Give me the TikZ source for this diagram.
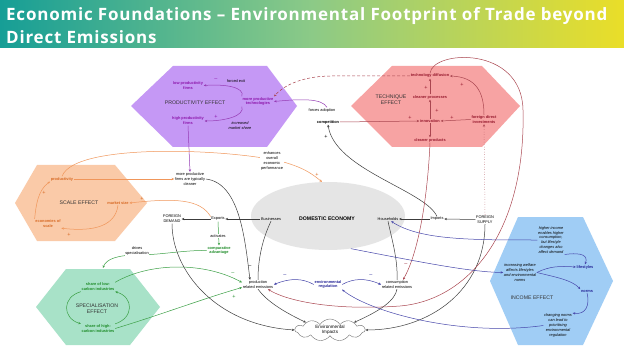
\documentclass[tikz,border=0pt]{standalone}
\usepackage{fontspec}
\setmainfont{Liberation Sans}
\newfontfamily\titlefont{Open Sans}[LetterSpace=4.6]
\usetikzlibrary{arrows.meta,shapes.geometric,shapes.symbols}
\definecolor{purpfill}{RGB}{197,152,245}
\definecolor{purptxt}{RGB}{140,20,170}
\definecolor{purpline}{RGB}{150,60,180}
\definecolor{redfill}{RGB}{247,163,163}
\definecolor{redtxt}{RGB}{150,25,45}
\definecolor{redline}{RGB}{170,70,80}
\definecolor{orfill}{RGB}{250,202,168}
\definecolor{ortxt}{RGB}{215,105,35}
\definecolor{orline}{RGB}{240,150,90}
\definecolor{grfill}{RGB}{168,226,200}
\definecolor{grtxt}{RGB}{30,140,40}
\definecolor{grline}{RGB}{60,160,70}
\definecolor{blfill}{RGB}{160,205,245}
\definecolor{bltxt}{RGB}{35,35,150}
\definecolor{blline}{RGB}{70,70,170}
\definecolor{ellfill}{RGB}{229,229,229}
\definecolor{kline}{RGB}{60,60,60}
\definecolor{tleft}{RGB}{22,158,150}
\definecolor{tmid}{RGB}{140,202,135}
\definecolor{tright}{RGB}{234,222,40}
\newcommand{\smfs}{\fontsize{3.9}{4.9}\selectfont}
\newcommand{\hexfs}{\fontsize{5.2}{6}\selectfont}
\begin{document}
\begin{tikzpicture}[x=1pt,y=-1pt,
  t/.style={font=\smfs, align=center, inner sep=0.6pt, text=black},
  ti/.style={font=\smfs\itshape, align=center, inner sep=0.6pt, text=black},
  tb/.style={font=\smfs\bfseries, align=center, inner sep=0.6pt, text=black},
  pl/.style={font=\smfs\bfseries, align=center, inner sep=0.6pt, text=purptxt},
  rl/.style={font=\smfs\bfseries, align=center, inner sep=0.6pt, text=redtxt},
  ol/.style={font=\smfs\bfseries, align=center, inner sep=0.6pt, text=ortxt},
  gl/.style={font=\smfs\bfseries, align=center, inner sep=0.6pt, text=grtxt},
  bl/.style={font=\smfs\bfseries, align=center, inner sep=0.6pt, text=bltxt},
  hext/.style={font=\hexfs, align=center, inner sep=0.6pt, text=black!80},
  sgn/.style={font=\fontsize{5.5}{5.5}\selectfont, inner sep=0pt},
  tip/.style={-{Stealth[length=2.6pt,width=2.3pt]}},
  parr/.style={tip, draw=purpline, line width=0.5pt},
  rarr/.style={tip, draw=redline, line width=0.5pt},
  oarr/.style={tip, draw=orline, line width=0.5pt},
  garr/.style={tip, draw=grline, line width=0.5pt},
  barr/.style={tip, draw=blline, line width=0.5pt},
  karr/.style={tip, draw=kline, line width=0.5pt},
  kplain/.style={draw=kline, line width=0.5pt},
]
\useasboundingbox (0,0) rectangle (624,350);
\fill[white] (0,0) rectangle (624,350);
% title bar
\shade[left color=tleft, right color=tright, middle color=tmid] (0,0) rectangle (624,47.5);
\node[anchor=base west, inner sep=0, text=white, font=\titlefont\bfseries\fontsize{17}{20}\selectfont] (title1) at (6,20.7) {Economic Foundations – Environmental Footprint of Trade beyond};
\node[anchor=base west, inner sep=0, text=white, font=\titlefont\bfseries\fontsize{17}{20}\selectfont] (title2) at (6,43.3) {Direct Emissions};

% hexagons
\fill[purpfill] (131,106) -- (173,66) -- (267,66) -- (297,106) -- (267,147) -- (173,147) -- cycle;
\fill[redfill] (351,106) -- (392,66) -- (482,66) -- (520,106) -- (482,147) -- (392,147) -- cycle;
\fill[orfill] (15,203) -- (37,165) -- (115,165) -- (147,203) -- (115,241) -- (37,241) -- cycle;
\fill[grfill] (36,307) -- (66,269) -- (130,269) -- (160,307) -- (130,345) -- (66,345) -- cycle;
\fill[blfill] (490,281) -- (518,217) -- (583,217) -- (613,281) -- (583,345) -- (518,345) -- cycle;
% domestic economy
\node[ellipse, fill=ellfill, minimum width=154pt, minimum height=68pt, inner sep=0] (domeco) at (328,216) {};
\node[font=\fontsize{5.2}{6}\selectfont\bfseries, inner sep=0.6pt] (domtxt) at (327,219) {DOMESTIC ECONOMY};

% productivity effect
\node[pl] (lowp) at (188,85.5) {low productivity\\firms};
\node[hext] (prodeff) at (195,103) {PRODUCTIVITY EFFECT};
\node[pl] (mpt) at (258,101.5) {more productive\\technologies};
\node[pl] (highp) at (188,121) {high productivity\\firms};
\node[t] (fexit) at (236,81) {forced exit};
\node[ti] (incms) at (240,125.5) {increased\\market share};
\node[sgn, text=purptxt] (s1) at (216,80) {–};
\node[sgn, text=purptxt] (s2) at (216,117) {+};
\draw[parr] (mpt.north west) .. controls (245,87) and (225,84) .. (lowp.east);
\draw[parr] (mpt.south west) .. controls (245,116) and (225,121) .. (highp.east);

% technique effect
\node[rl] (techdiff) at (430,76) {technology diffusion};
\node[rl] (cleanproc) at (430,97) {cleaner processes};
\node[rl] (innov) at (430,121) {innovation};
\node[rl] (cleanprod) at (430,140) {cleaner products};
\node[rl] (fdi) at (484,119.5) {foreign direct\\investments};
\node[hext] (techeff) at (391,100) {TECHNIQUE\\EFFECT};
\draw[rarr] (cleanproc.north) -- (techdiff.south);
\draw[rarr] (innov.north) -- (cleanproc.south);
\draw[rarr] (innov.south) -- (cleanprod.north);
\draw[rarr] (fdi.west) -- (innov.east);
\draw[rarr] (fdi.north) .. controls (484,92) and (476,77) .. (techdiff.east);
\node[sgn, text=redtxt] (s3) at (426,88) {+};
\node[sgn, text=redtxt] (s4) at (437,111) {+};
\node[sgn, text=redtxt] (s5) at (452,118) {+};
\node[sgn, text=redtxt] (s6) at (410,118) {+};
\node[sgn, text=redtxt] (s7) at (462,85) {+};

% competition
\node[tb] (comp) at (328,122) {competition};
\node[t] (fadopt) at (322,110) {forces adoption};
\draw[parr] ([xshift=5pt]fadopt.north) .. controls (322,98) and (300,99) .. (mpt.east);
\draw[rarr] (comp.east) -- (innov.west);
\draw[rarr, densely dashed] (techdiff.west) -- (332,76) .. controls (305,76) and (285,84) .. (mpt.north east);
\node[sgn] (s8) at (326,137) {+};

% row
\node[t] (fdem) at (172,219) {FOREIGN\\DEMAND};
\node[t] (exports) at (218,219) {Exports};
\node[t] (business) at (271,219) {Businesses};
\node[t] (households) at (388,219) {Households};
\node[t] (imports) at (437,219) {Imports};
\node[t] (fsup) at (485,219.5) {FOREIGN\\SUPPLY};
\draw[karr] (exports.west) -- (fdem.east);
\draw[karr] (business.west) -- (exports.east);
\draw[karr] (fsup.west) -- (imports.east);
\draw[karr] (imports.west) -- (households.east);
\draw[karr] (imports.north) .. controls (425,190) and (335,170) .. (comp.south);
\draw[rarr, dotted] (fsup.north) -- (fdi.south);

% scale effect
\node[ol] (prodty) at (62,179) {productivity};
\node[hext] (scaleeff) at (79,203) {SCALE EFFECT};
\node[ol] (msize) at (118,203) {market size};
\node[ol] (eos) at (48,223.5) {economies of\\scale};
\node[t] (mpfc) at (190,179) {more productive\\firms are typically\\cleaner};
\draw[oarr] (msize.south) .. controls (115,230) and (85,231) .. (eos.south east);
\draw[oarr] (eos.north west) .. controls (36,205) and (38,190) .. (prodty.south west);
\node[sgn, text=ortxt] (s9) at (44,193) {+};
\node[sgn, text=ortxt] (s10) at (69,235) {+};
\draw[oarr] (prodty.east) -- (mpfc.west);
\draw[parr] (highp.south) -- (mpfc.north);
\draw[oarr] (prodty.north) .. controls (75,140) and (250,150) .. (290,164) .. controls (302,168) and (310,172) .. (domeco.100);
\node[t, fill=white] (enh) at (272,161) {enhances\\overall\\economic\\performance};
\node[sgn, text=ortxt] (s11) at (317,175) {+};
\draw[oarr] (exports.north west) .. controls (200,199) and (175,198) .. (msize.east);
\node[sgn, text=ortxt] (s12) at (142,199) {+};

% comparative advantage / specialisation
\node[gl] (compadv) at (219,250.5) {comparative\\advantage};
\draw[garr] (exports.south) -- (compadv.north);
\node[t, fill=white] (activ) at (218,236) {activates};
\node[ol, text=grtxt] (lowc) at (98,287) {share of low-\\carbon industries};
\node[hext] (speceff) at (97,309) {SPECIALISATION\\EFFECT};
\node[gl] (highc) at (98,328.5) {share of high-\\carbon industries};
\coordinate (spectop) at (103,268);
\draw[garr] (compadv.west) .. controls (185,250) and (160,255) .. (137,255) .. controls (118,255) and (106,259) .. (spectop);
\node[t, fill=white] (drives) at (137,251) {drives\\specialisation};
\draw[garr] (lowc.south west) .. controls (62,297) and (62,318) .. (highc.north west);
\draw[garr] (highc.north east) .. controls (134,318) and (134,297) .. (lowc.south east);

% emissions
\node[t] (prodem) at (258,284.5) {production\\related emissions};
\node[bl] (envreg) at (328,284.5) {environmental\\regulation};
\node[t] (consem) at (397,284.5) {consumption\\related emissions};
\node[cloud, draw=black!55, fill=white, cloud puffs=11, cloud puff arc=115, aspect=3.2, minimum width=70pt, minimum height=22pt, inner sep=0pt, font=\fontsize{4.6}{5.6}\selectfont, align=center] (envimp) at (330,330) {Environmental\\Impacts};

\draw[garr] (lowc.north east) .. controls (150,262) and (205,262) .. ([yshift=2pt]prodem.west);
\draw[garr] (highc.east) .. controls (160,315) and (205,298) .. ([yshift=-3pt]prodem.west);
\node[sgn, text=grtxt] (s13) at (233,274) {–};
\node[sgn, text=grtxt] (s14) at (234,297) {+};

\draw[karr] (mpfc.east) .. controls (240,183) and (245,240) .. ([xshift=-8pt]prodem.north);
\node[sgn] (s15) at (250,267) {–};
\draw[kplain] (business.south) .. controls (262,240) and (258,260) .. (prodem.north);
\draw[kplain] (households.south) .. controls (392,240) and (398,260) .. (consem.north);
\draw[karr] (fdem.south) .. controls (172,270) and (215,325) .. (envimp.west);
\draw[karr] (prodem.south) .. controls (266,300) and (280,310) .. (envimp.north west);
\draw[karr] (consem.south) .. controls (395,300) and (382,310) .. (envimp.north east);
\draw[karr] (fsup.south) .. controls (485,290) and (430,330) .. (envimp.east);

\draw[barr] (envreg.west) .. controls (302,278) and (290,278) .. (prodem.east);
\draw[barr] (envreg.east) .. controls (354,278) and (366,278) .. (consem.west);
\node[sgn, text=bltxt] (s16) at (285,276) {–};
\node[sgn, text=bltxt] (s17) at (371,276) {–};

% red long connectors
\draw[rarr] (techdiff.north) .. controls (432,50) and (522,45) .. (523,110) .. controls (526,230) and (470,300) .. (400,306) .. controls (330,311) and (285,300) .. ([xshift=-6pt]prodem.south east);
\draw[rarr] (cleanprod.south) .. controls (428,190) and (420,250) .. ([xshift=6pt]consem.north);
\node[sgn, text=redtxt] (s18) at (406,265) {–};

% income effect
\node[ti] (hiinc) at (551,240) {higher income\\enables higher\\consumption,\\but lifestyle\\changes also\\affect demand};
\node[bl] (lifest) at (585,267) {lifestyles};
\node[ti] (welfare) at (520,272.5) {increasing welfare\\affects lifestyles\\and environmental\\norms};
\node[bl] (norms) at (587,291) {norms};
\node[hext] (inceff) at (532,298) {INCOME EFFECT};
\node[ti] (chnorms) at (558,325.5) {changing norms\\can lead to\\prioritising\\environmental\\regulation};
\draw[barr] (hiinc.west) .. controls (470,240) and (420,240) .. ([xshift=-8pt]households.south east);
\draw[barr] (domeco.-55) .. controls (420,262) and (470,272) .. (welfare.west);
\draw[barr] (chnorms.west) .. controls (460,337) and (370,312) .. (envreg.south east);
\draw[barr] (welfare.east) .. controls (550,266) and (560,266) .. (lifest.west);
\draw[barr] (welfare.east) .. controls (555,277) and (572,280) .. (norms.north west);
\draw[barr] (hiinc.south east) .. controls (583,252) and (588,256) .. (lifest.north);
\draw[barr] (norms.south) .. controls (590,305) and (586,315) .. (chnorms.north east);
\end{tikzpicture}
\end{document}
